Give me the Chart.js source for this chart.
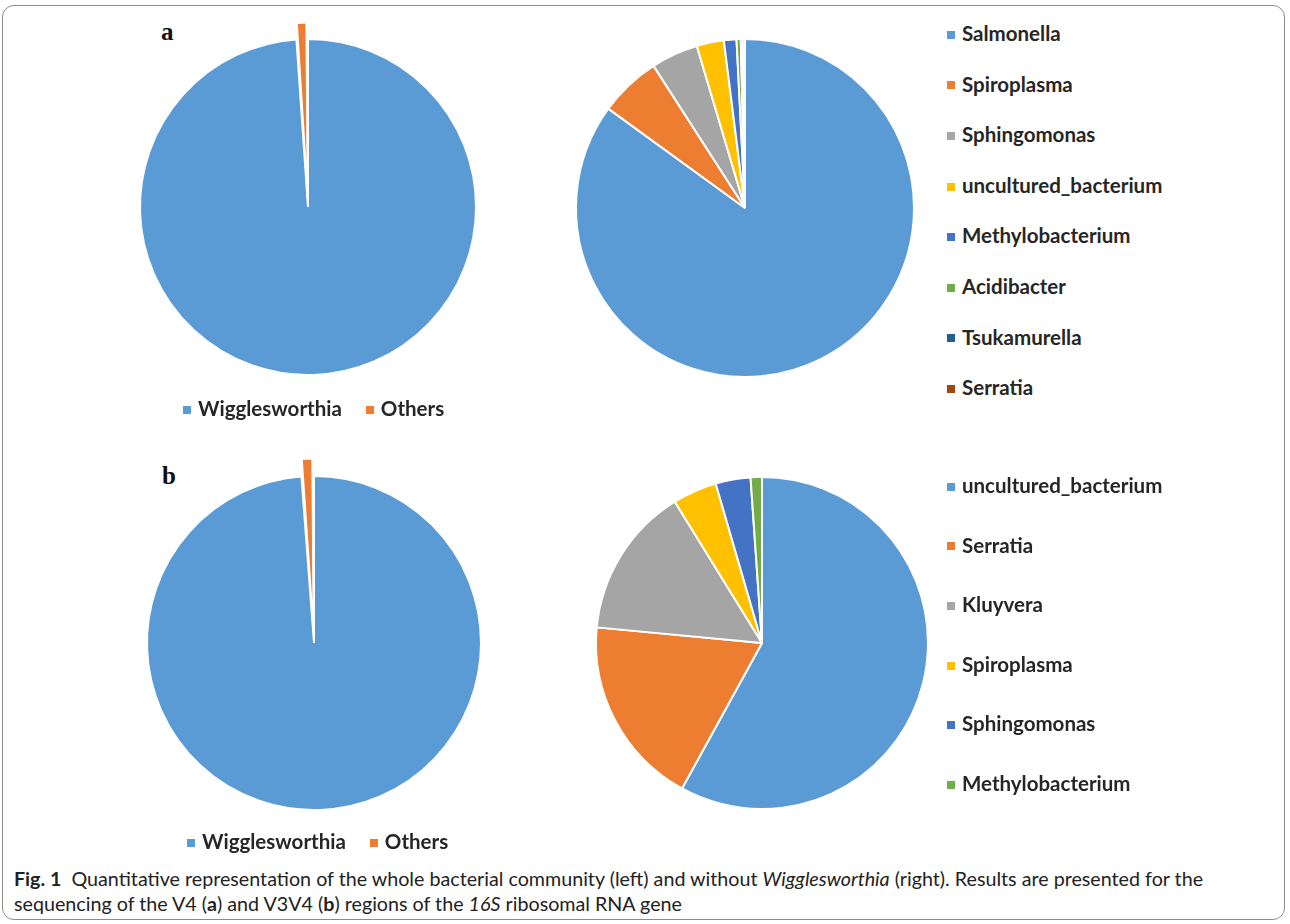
<!DOCTYPE html>
<html>
<head>
<meta charset="utf-8">
<script src="https://cdn.jsdelivr.net/npm/chart.js@4.4.0/dist/chart.umd.min.js"></script>
<style>
  body { margin: 0; background: #fff; width: 1290px; height: 924px; position: relative; overflow: hidden; font-family: Lato, "Open Sans", sans-serif; }
  #frame { position: absolute; left: 2px; top: 5px; width: 1283px; height: 915px; border: 1.5px solid #8c8c8c; border-radius: 12px; box-sizing: border-box; }
  canvas.pie { position: absolute; }
  .panel { position: absolute; font-family: "Liberation Serif", serif; font-weight: bold; font-size: 25px; color: #111; line-height: 25px; }
  .leg { position: absolute; font-weight: bold; color: #262626; font-size: 20.5px; line-height: 24px; white-space: nowrap; }
  .leg i { display: inline-block; width: 8px; height: 8px; margin-right: 7px; vertical-align: middle; position: relative; top: -1px; }
  .leg span { margin-right: 24px; }
  #caption { position: absolute; left: 14px; top: 866px; font-size: 19.7px; line-height: 25px; color: #222; white-space: nowrap; }
</style>
</head>
<body>
<div id="frame"></div>
<div class="panel" style="left:161px; top:19px;">a</div>
<div class="panel" style="left:162px; top:463px;">b</div>

<canvas id="pieA1" class="pie" width="400" height="400" style="left:108px; top:7px;"></canvas>
<canvas id="pieA2" class="pie" width="400" height="400" style="left:545px; top:8px;"></canvas>
<canvas id="pieB1" class="pie" width="400" height="400" style="left:114px; top:443px;"></canvas>
<canvas id="pieB2" class="pie" width="400" height="400" style="left:562px; top:443px;"></canvas>

<div id="legA1" class="leg" style="left:183px; top:396px;"></div>
<div id="legB1" class="leg" style="left:187px; top:829px;"></div>
<div id="legA2"></div>
<div id="legB2"></div>

<div id="caption"><b>Fig. 1</b>&nbsp; Quantitative representation of the whole bacterial community (left) and without <i>Wigglesworthia</i> (right). Results are presented for the<br>sequencing of the V4 (<b>a</b>) and V3V4 (<b>b</b>) regions of the <i>16S</i> ribosomal RNA gene</div>

<script>
// whole community, Wigglesworthia vs the rest (%)
const wholeLabels = ['Wigglesworthia', 'Others'];
const wholeV4 = [98.9, 1.1];
const wholeV3V4 = [98.8, 1.2];

// community without Wigglesworthia, V4 region (%)
const v4Labels = ['Salmonella', 'Spiroplasma', 'Sphingomonas', 'uncultured_bacterium',
                  'Methylobacterium', 'Acidibacter', 'Tsukamurella', 'Serratia'];
const v4Values = [85.0, 5.9, 4.5, 2.6, 1.2, 0.4, 0.2, 0.2];

// community without Wigglesworthia, V3V4 region (%)
const v3v4Labels = ['uncultured_bacterium', 'Serratia', 'Kluyvera', 'Spiroplasma',
                    'Sphingomonas', 'Methylobacterium'];
const v3v4Values = [58.0, 18.5, 14.7, 4.3, 3.4, 1.1];

// office palette
const colors = ['#5B9BD5', '#ED7D31', '#A5A5A5', '#FFC000', '#4472C4', '#70AD47', '#255E91', '#9E480E'];

function drawPie(id, labels, values, offsets, radius) {
    return new Chart(document.getElementById(id), {
        type: 'pie',
        data: {
            labels: labels,
            datasets: [{
                data: values,
                backgroundColor: colors.slice(0, values.length),
                borderColor: '#ffffff',
                borderWidth: 2,
                offset: offsets,
                hoverOffset: 0
            }]
        },
        options: {
            responsive: false,
            animation: false,
            radius: radius,
            layout: { padding: 0 },
            plugins: { legend: { display: false }, tooltip: { enabled: false } }
        }
    });
}

// "Others" slice pulled out of the left pies
drawPie('pieA1', wholeLabels, wholeV4, [0, 34], 168);
drawPie('pieA2', v4Labels, v4Values, 0, 169);
drawPie('pieB1', wholeLabels, wholeV3V4, [0, 36], 167);
drawPie('pieB2', v3v4Labels, v3v4Values, 0, 166);

// horizontal legend under the left pies
function rowLegend(id, labels) {
    const el = document.getElementById(id);
    labels.forEach((l, i) => {
        const s = document.createElement('span');
        s.innerHTML = `<i style="background:${colors[i]}"></i>${l}`;
        el.appendChild(s);
    });
}

// vertical legend to the right of the pies
function columnLegend(id, labels, x, firstY, step) {
    const el = document.getElementById(id);
    labels.forEach((l, i) => {
        const d = document.createElement('div');
        d.className = 'leg';
        d.style.left = x + 'px';
        d.style.top = (firstY + i * step - 12) + 'px';
        d.innerHTML = `<i style="background:${colors[i]}"></i>${l}`;
        el.appendChild(d);
    });
}

rowLegend('legA1', wholeLabels);
rowLegend('legB1', wholeLabels);
columnLegend('legA2', v4Labels, 947, 33, 50.6);
columnLegend('legB2', v3v4Labels, 947, 485, 59.6);
</script>
</body>
</html>
